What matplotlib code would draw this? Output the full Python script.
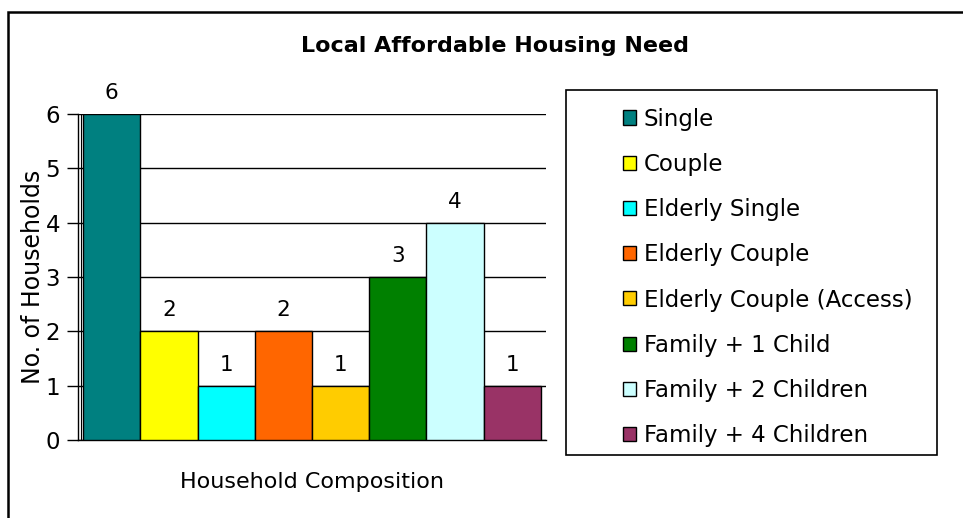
import numpy as np
import matplotlib.pyplot as plt
from matplotlib.patches import Rectangle

# chart data
categories = ["Single", "Couple", "Elderly Single", "Elderly Couple",
              "Elderly Couple (Access)", "Family + 1 Child",
              "Family + 2 Children", "Family + 4 Children"]
households = [6, 2, 1, 2, 1, 3, 4, 1]
colours = ["#008080", "#FFFF00", "#00FFFF", "#FF6600",
           "#FFCC00", "#008000", "#CCFFFF", "#993366"]

W, H = 963, 518
fig = plt.figure(figsize=(W / 100, H / 100), dpi=100)
plt.rcParams['font.family'] = ['DejaVu Sans']

# outer chart border
fig.patches.append(Rectangle((8 / W, -0.1), 1.2, 1 - 12 / H + 0.1,
                             transform=fig.transFigure, fill=False,
                             edgecolor='black', linewidth=1.8))

ax = fig.add_axes([78 / W, 1 - 440 / H, (546 - 78) / W, (440 - 114) / H])

x = np.arange(len(categories))
bars = ax.bar(x, households, width=1.0, color=colours,
              edgecolor='black', linewidth=1, label=categories, zorder=3)

for xi, v in zip(x, households):
    ax.text(xi, v + 0.2, str(v), ha='center', va='bottom', fontsize=15.5)

ax.set_xlim(-0.59, len(categories) - 0.41)
ax.set_ylim(0, 6)
ax.set_yticks(range(0, 7))
ax.tick_params(axis='y', labelsize=16.5, length=8, width=1, pad=5)
ax.set_xticks([])
ax.yaxis.grid(True, color='black', linewidth=1, zorder=0)
for s in ['top', 'right']:
    ax.spines[s].set_visible(False)
ax.spines['left'].set_linewidth(1)
ax.spines['bottom'].set_linewidth(1)
# second thin line just inside the value axis, as in the original
ax.axvline(-0.535, color='black', linewidth=0.8, zorder=2)

ax.set_ylabel("No. of Households", fontsize=17, labelpad=0)
ax.set_xlabel("Household Composition", fontsize=16, labelpad=23)

fig.text(495 / W, 1 - 46 / H, "Local Affordable Housing Need",
         ha='center', va='center', fontsize=16, fontweight='bold')

# legend frame
fig.patches.append(Rectangle((566 / W, 1 - 455 / H), (937 - 566) / W, (455 - 90) / H,
                             transform=fig.transFigure, fill=False,
                             edgecolor='black', linewidth=1.2))
leg = fig.legend(handles=bars, labels=categories, loc='upper left',
                 bbox_to_anchor=(602 / W, 1 - 87 / H), frameon=False,
                 fontsize=16.5, handlelength=0.57, handleheight=0.57,
                 handletextpad=0.35, labelspacing=0.97)

fig.savefig("out.png", dpi=100)
